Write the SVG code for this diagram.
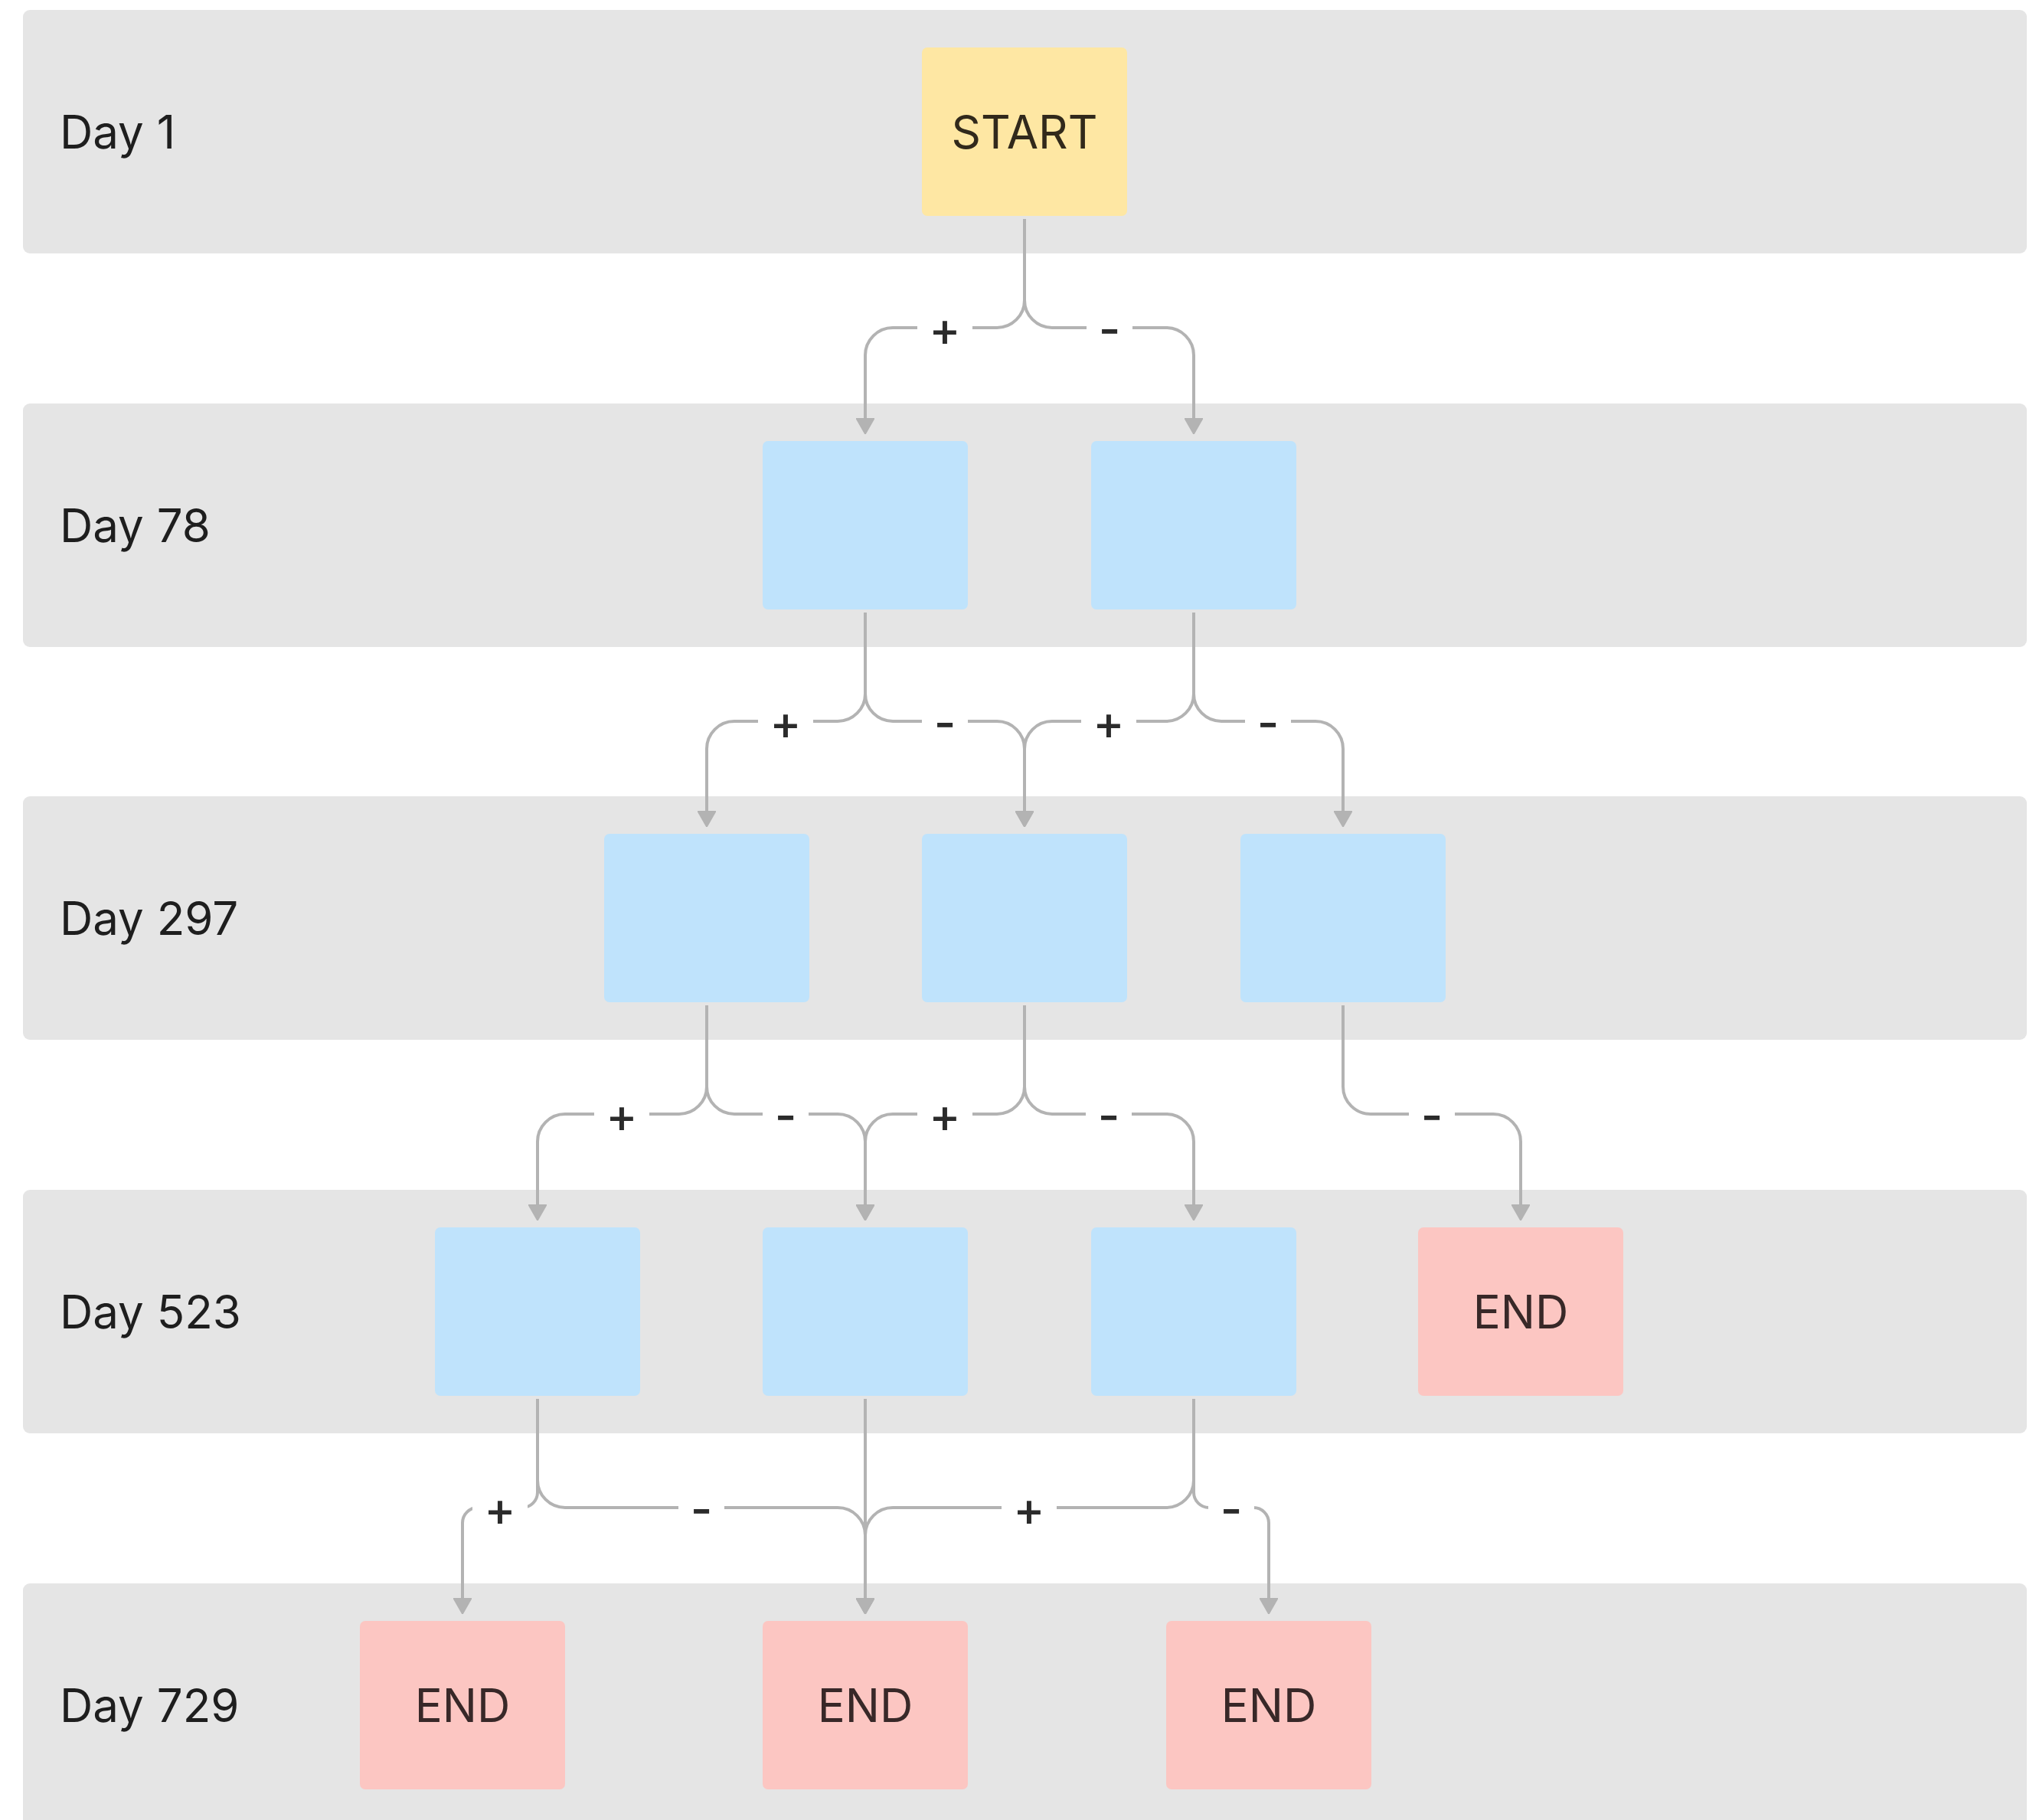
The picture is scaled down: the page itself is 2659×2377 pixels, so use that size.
<svg xmlns="http://www.w3.org/2000/svg" width="2659" height="2377" viewBox="0 0 2659 2377">
  <style>
    .lane { fill: #e5e5e5; }
    .day { font-family: Inter, "Liberation Sans", sans-serif; font-size: 60px; fill: #1e1e1e; }
    .node { stroke: none; }
    .blue { fill: #bfe3fc; }
    .start { fill: #fee7a3; }
    .end { fill: #fcc6c2; }
    .ntext { font-family: Inter, "Liberation Sans", sans-serif; font-size: 60px; text-anchor: middle; }
    .start-t { fill: #31291b; }
    .end-t { fill: #382828; }
    .edge { fill: none; stroke: #b3b3b3; stroke-width: 4; }
    .lbg { fill: #ffffff; }
    .lbl { font-family: Inter, "Liberation Sans", sans-serif; font-size: 62px; font-weight: 500; fill: #2b2b2b; text-anchor: middle; }
  </style>
  <defs>
    <marker id="arrow" markerUnits="userSpaceOnUse" viewBox="0 0 21 24" refX="0" refY="12" markerWidth="21" markerHeight="24" orient="auto">
      <path d="M0,0 L21,12 L0,24 z" fill="#b3b3b3" stroke="#b3b3b3" stroke-width="1.5" stroke-linejoin="round"/>
    </marker>
  </defs>

  <rect width="2659" height="2377" fill="#ffffff"/>

  <!-- swimlanes -->
  <g id="lanes">
    <g id="lane-day1">
      <rect class="lane" x="30" y="13" width="2617" height="318" rx="9"/>
      <text class="day" x="78" y="194">Day 1</text>
    </g>
    <g id="lane-day78">
      <rect class="lane" x="30" y="527" width="2617" height="318" rx="9"/>
      <text class="day" x="78" y="708">Day 78</text>
    </g>
    <g id="lane-day297">
      <rect class="lane" x="30" y="1040" width="2617" height="318" rx="9"/>
      <text class="day" x="78" y="1221">Day 297</text>
    </g>
    <g id="lane-day523">
      <rect class="lane" x="30" y="1554" width="2617" height="318" rx="9"/>
      <text class="day" x="78" y="1735">Day 523</text>
    </g>
    <g id="lane-day729">
      <rect class="lane" x="30" y="2068" width="2617" height="318" rx="9"/>
      <text class="day" x="78" y="2249">Day 729</text>
    </g>
  </g>

  <!-- connectors: vertical drop, rounded turn, horizontal run, rounded turn, arrow down -->
  <g id="connectors">
    <!-- Day 1 -> Day 78 -->
    <path class="edge" marker-end="url(#arrow)" d="M1338,286 V392 A36,36 0 0 1 1302,428 H1166 A36,36 0 0 0 1130,464 V546"/>
    <path class="edge" marker-end="url(#arrow)" d="M1338,286 V392 A36,36 0 0 0 1374,428 H1523 A36,36 0 0 1 1559,464 V546"/>

    <!-- Day 78 -> Day 297 -->
    <path class="edge" marker-end="url(#arrow)" d="M1130,800 V906 A36,36 0 0 1 1094,942 H959 A36,36 0 0 0 923,978 V1059"/>
    <path class="edge" marker-end="url(#arrow)" d="M1130,800 V906 A36,36 0 0 0 1166,942 H1302 A36,36 0 0 1 1338,978 V1059"/>
    <path class="edge" marker-end="url(#arrow)" d="M1559,800 V906 A36,36 0 0 1 1523,942 H1374 A36,36 0 0 0 1338,978 V1059"/>
    <path class="edge" marker-end="url(#arrow)" d="M1559,800 V906 A36,36 0 0 0 1595,942 H1718 A36,36 0 0 1 1754,978 V1059"/>

    <!-- Day 297 -> Day 523 -->
    <path class="edge" marker-end="url(#arrow)" d="M923,1313 V1419 A36,36 0 0 1 887,1455 H738 A36,36 0 0 0 702,1491 V1573"/>
    <path class="edge" marker-end="url(#arrow)" d="M923,1313 V1419 A36,36 0 0 0 959,1455 H1094 A36,36 0 0 1 1130,1491 V1573"/>
    <path class="edge" marker-end="url(#arrow)" d="M1338,1313 V1419 A36,36 0 0 1 1302,1455 H1166 A36,36 0 0 0 1130,1491 V1573"/>
    <path class="edge" marker-end="url(#arrow)" d="M1338,1313 V1419 A36,36 0 0 0 1374,1455 H1523 A36,36 0 0 1 1559,1491 V1573"/>
    <path class="edge" marker-end="url(#arrow)" d="M1754,1313 V1419 A36,36 0 0 0 1790,1455 H1950 A36,36 0 0 1 1986,1491 V1573"/>

    <!-- Day 523 -> Day 729 -->
    <path class="edge" marker-end="url(#arrow)" d="M702,1827 V1949 A20,20 0 0 1 682,1969 H624 A20,20 0 0 0 604,1989 V2087"/>
    <path class="edge" marker-end="url(#arrow)" d="M702,1827 V1933 A36,36 0 0 0 738,1969 H1094 A36,36 0 0 1 1130,2005 V2087"/>
    <path class="edge" marker-end="url(#arrow)" d="M1130,1827 V2087"/>
    <path class="edge" marker-end="url(#arrow)" d="M1559,1827 V1933 A36,36 0 0 1 1523,1969 H1166 A36,36 0 0 0 1130,2005 V2087"/>
    <path class="edge" marker-end="url(#arrow)" d="M1559,1827 V1949 A20,20 0 0 0 1579,1969 H1637 A20,20 0 0 1 1657,1989 V2087"/>

    <!-- edge labels -->
    <g id="edge-labels">
      <rect class="lbg" x="1198" y="408" width="72" height="40"/><text class="lbl" x="1234" y="452">+</text>
      <rect class="lbg" x="1419" y="408" width="60" height="40"/><text class="lbl" x="1449" y="452">-</text>

      <rect class="lbg" x="990" y="922" width="72" height="40"/><text class="lbl" x="1026" y="966">+</text>
      <rect class="lbg" x="1204" y="922" width="60" height="40"/><text class="lbl" x="1234" y="966">-</text>
      <rect class="lbg" x="1412" y="922" width="72" height="40"/><text class="lbl" x="1448" y="966">+</text>
      <rect class="lbg" x="1626" y="922" width="60" height="40"/><text class="lbl" x="1656" y="966">-</text>

      <rect class="lbg" x="776" y="1435" width="72" height="40"/><text class="lbl" x="812" y="1479">+</text>
      <rect class="lbg" x="996" y="1435" width="60" height="40"/><text class="lbl" x="1026" y="1479">-</text>
      <rect class="lbg" x="1198" y="1435" width="72" height="40"/><text class="lbl" x="1234" y="1479">+</text>
      <rect class="lbg" x="1418" y="1435" width="60" height="40"/><text class="lbl" x="1448" y="1479">-</text>
      <rect class="lbg" x="1840" y="1435" width="60" height="40"/><text class="lbl" x="1870" y="1479">-</text>

      <rect class="lbg" x="617" y="1949" width="72" height="40"/><text class="lbl" x="653" y="1993">+</text>
      <rect class="lbg" x="886" y="1949" width="60" height="40"/><text class="lbl" x="916" y="1993">-</text>
      <rect class="lbg" x="1308" y="1949" width="72" height="40"/><text class="lbl" x="1344" y="1993">+</text>
      <rect class="lbg" x="1578" y="1949" width="60" height="40"/><text class="lbl" x="1608" y="1993">-</text>
    </g>
  </g>

  <!-- nodes -->
  <g id="node-start"><rect class="node start" x="1204" y="62" width="268" height="220" rx="7"/><text class="ntext start-t" x="1338" y="194">START</text></g>

  <g id="node-78a"><rect class="node blue" x="996" y="576" width="268" height="220" rx="7"/></g>
  <g id="node-78b"><rect class="node blue" x="1425" y="576" width="268" height="220" rx="7"/></g>

  <g id="node-297a"><rect class="node blue" x="789" y="1089" width="268" height="220" rx="7"/></g>
  <g id="node-297b"><rect class="node blue" x="1204" y="1089" width="268" height="220" rx="7"/></g>
  <g id="node-297c"><rect class="node blue" x="1620" y="1089" width="268" height="220" rx="7"/></g>

  <g id="node-523a"><rect class="node blue" x="568" y="1603" width="268" height="220" rx="7"/></g>
  <g id="node-523b"><rect class="node blue" x="996" y="1603" width="268" height="220" rx="7"/></g>
  <g id="node-523c"><rect class="node blue" x="1425" y="1603" width="268" height="220" rx="7"/></g>
  <g id="node-523-end"><rect class="node end" x="1852" y="1603" width="268" height="220" rx="7"/><text class="ntext end-t" x="1986" y="1735">END</text></g>

  <g id="node-729a"><rect class="node end" x="470" y="2117" width="268" height="220" rx="7"/><text class="ntext end-t" x="604" y="2249">END</text></g>
  <g id="node-729b"><rect class="node end" x="996" y="2117" width="268" height="220" rx="7"/><text class="ntext end-t" x="1130" y="2249">END</text></g>
  <g id="node-729c"><rect class="node end" x="1523" y="2117" width="268" height="220" rx="7"/><text class="ntext end-t" x="1657" y="2249">END</text></g>
</svg>
